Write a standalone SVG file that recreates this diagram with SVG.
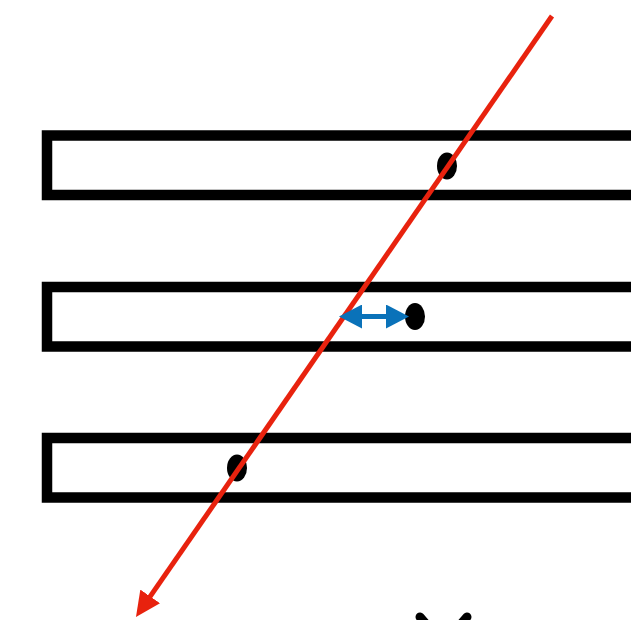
<svg xmlns="http://www.w3.org/2000/svg" width="631" height="620" viewBox="0 0 631 620">
  <defs>
    <style>
      .bar { fill: none; stroke: #000; stroke-width: 10.5; }
      .dot { fill: #000; }
      .ray { stroke: #E8220E; stroke-width: 5; fill: none; }
      .gap { stroke: #0A72B9; stroke-width: 5; fill: none; }
      .xmark { stroke: #000; stroke-width: 9; stroke-linecap: round; fill: none; }
    </style>
    <marker id="redHead" markerUnits="userSpaceOnUse" markerWidth="25" markerHeight="24" refX="3" refY="12" orient="auto" viewBox="0 0 25 24">
      <path d="M0,0 L25,12 L0,24 z" fill="#E8220E"/>
    </marker>
    <marker id="blueHead" markerUnits="userSpaceOnUse" markerWidth="23" markerHeight="24" refX="3" refY="12" orient="auto-start-reverse" viewBox="0 0 23 24">
      <path d="M0,0 L23,12 L0,24 z" fill="#0A72B9"/>
    </marker>
  </defs>
  <rect width="631" height="620" fill="#fff"/>

  <g id="bar1">
    <rect class="bar" x="47" y="135.5" width="700" height="59.5"/>
  </g>
  <g id="bar2">
    <rect class="bar" x="47" y="287" width="700" height="59.5"/>
  </g>
  <g id="bar3">
    <rect class="bar" x="47" y="438" width="700" height="59.5"/>
  </g>

  <g id="dot1"><ellipse class="dot" cx="447" cy="166" rx="10" ry="13.5"/></g>
  <g id="dot2"><ellipse class="dot" cx="415" cy="316.5" rx="10" ry="13.5"/></g>
  <g id="dot3"><ellipse class="dot" cx="237" cy="468" rx="10" ry="13.5"/></g>

  <g id="connectors">
    <line class="ray" x1="552" y1="16" x2="148.5" y2="598.9" marker-end="url(#redHead)"/>
    <line class="gap" x1="359" y1="316.5" x2="389" y2="316.5" marker-start="url(#blueHead)" marker-end="url(#blueHead)"/>
  </g>

  <g id="xmark">
    <line class="xmark" x1="420" y1="617" x2="440" y2="640"/>
    <line class="xmark" x1="467" y1="617" x2="447" y2="640"/>
  </g>
</svg>
